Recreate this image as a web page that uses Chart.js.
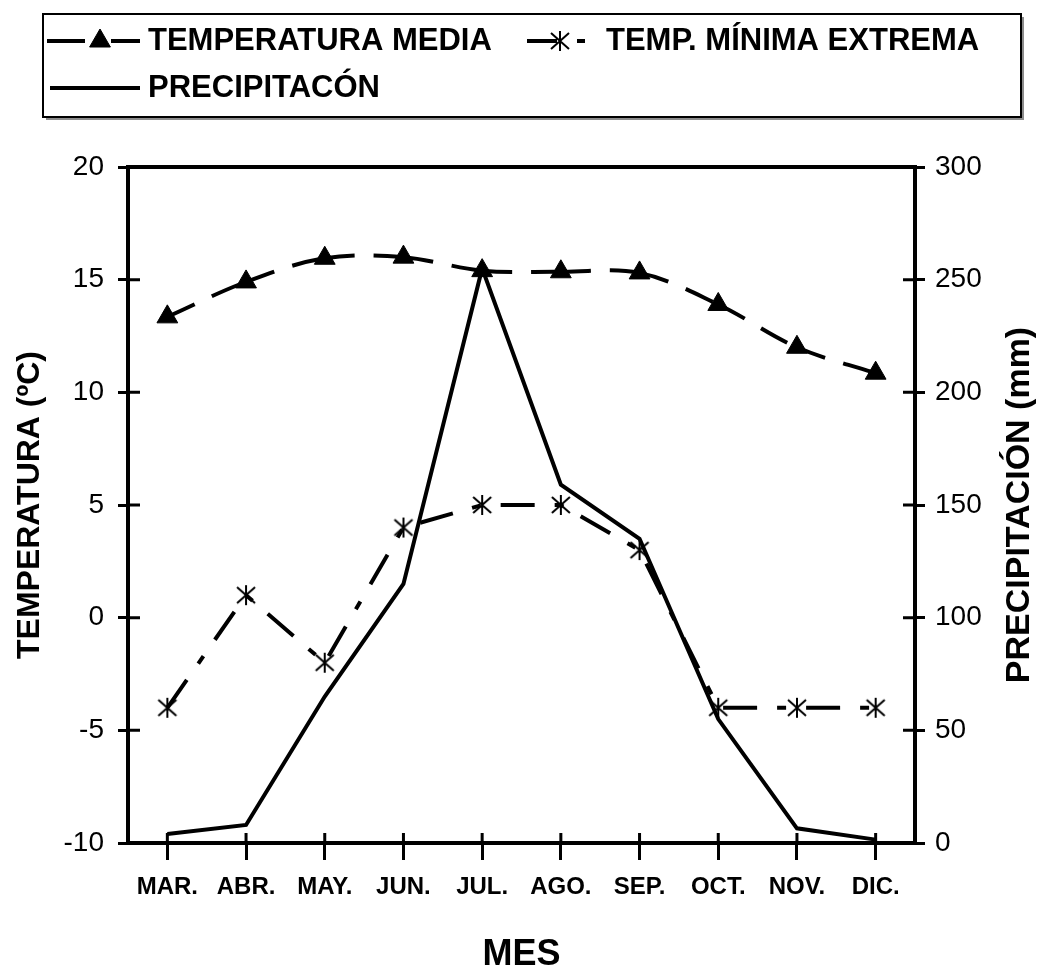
<!DOCTYPE html>
<html>
<head>
<meta charset="utf-8">
<script src="https://cdn.jsdelivr.net/npm/chart.js@4.4.0/dist/chart.umd.min.js"></script>
<style>
  body { margin: 0; background: #fff; }
  canvas { display: block; }
</style>
</head>
<body>
<canvas id="chart" width="1042" height="974"></canvas>
<script>
const months = ['MAR.', 'ABR.', 'MAY.', 'JUN.', 'JUL.', 'AGO.', 'SEP.', 'OCT.', 'NOV.', 'DIC.'];
const tempMedia = [13.35, 14.9, 15.95, 16.0, 15.4, 15.35, 15.3, 13.9, 12.0, 10.85];
const tempMinima = [-4, 1, -2, 4, 5, 5, 3, -4, -4, -4];
const precipitacion = [4, 8, 65, 115, 255, 159, 135, 55, 6.5, 1.5];

const FONT = "'Liberation Sans', Arial, sans-serif";

// asterisk marker (vertical bar + X), like the original spreadsheet marker
function makeStar() {
    const c = document.createElement('canvas');
    c.width = 24;
    c.height = 24;
    const g = c.getContext('2d');
    g.strokeStyle = '#000';
    g.lineWidth = 2;
    g.beginPath();
    g.moveTo(12, 2); g.lineTo(12, 22);
    g.moveTo(3, 4); g.lineTo(21, 20);
    g.moveTo(21, 4); g.lineTo(3, 20);
    g.stroke();
    return c;
}
const star = makeStar();

const boxLegend = {
    id: 'boxLegend',
    afterDraw(chart) {
        const ctx = chart.ctx;
        const ds = chart.data.datasets;
        ctx.save();
        ctx.fillStyle = '#8c8c8c';
        ctx.fillRect(46, 17, 978, 103);
        ctx.fillStyle = '#fff';
        ctx.fillRect(43, 14, 978, 103);
        ctx.strokeStyle = '#000';
        ctx.lineWidth = 2;
        ctx.strokeRect(43, 14, 978, 103);

        const items = [
            { i: 0, x: 47, w: 93, tx: 148, y: 41, mx: 100, dash: [38, 26] },
            { i: 1, x: 527, w: 68, tx: 606, y: 41, mx: 560, dash: [30, 20, 8, 20] },
            { i: 2, x: 50, w: 90, tx: 148, y: 88, mx: null, dash: [] }
        ];
        items.forEach(it => {
            const d = ds[it.i];
            ctx.strokeStyle = '#000';
            ctx.lineWidth = 4;
            ctx.setLineDash(it.dash);
            ctx.beginPath();
            ctx.moveTo(it.x, it.y);
            ctx.lineTo(it.x + it.w, it.y);
            ctx.stroke();
            ctx.setLineDash([]);
            if (it.mx !== null) {
                ctx.fillStyle = '#000';
                ctx.lineWidth = 1;
                Chart.helpers.drawPoint(ctx, {
                    pointStyle: d.pointStyle,
                    radius: d.pointRadius,
                    borderWidth: 1,
                    rotation: 0
                }, it.mx, it.y);
            }
            ctx.fillStyle = '#000';
            ctx.font = 'bold 31px ' + FONT;
            ctx.textBaseline = 'middle';
            ctx.textAlign = 'left';
            ctx.fillText(d.label, it.tx, it.y);
        });
        ctx.restore();
    }
};

const frame = {
    id: 'frame',
    afterDraw(chart) {
        const ctx = chart.ctx;
        const a = chart.chartArea;
        ctx.save();
        ctx.strokeStyle = '#000';
        ctx.lineWidth = 4;
        ctx.strokeRect(a.left, a.top, a.right - a.left, a.bottom - a.top);

        // tick marks crossing into the plot
        ctx.lineWidth = 3;
        ctx.beginPath();
        const sx = chart.scales.x;
        sx.ticks.forEach((t, i) => {
            const p = sx.getPixelForTick(i);
            ctx.moveTo(p, a.bottom - 10);
            ctx.lineTo(p, a.bottom);
        });
        const sy = chart.scales.y;
        sy.ticks.forEach((t, i) => {
            const p = sy.getPixelForTick(i);
            ctx.moveTo(a.left, p);
            ctx.lineTo(a.left + 12, p);
        });
        const sy1 = chart.scales.y1;
        sy1.ticks.forEach((t, i) => {
            const p = sy1.getPixelForTick(i);
            ctx.moveTo(a.right - 12, p);
            ctx.lineTo(a.right, p);
        });
        ctx.stroke();

        // axis titles (both read bottom to top)
        const mid = (a.top + a.bottom) / 2;
        ctx.fillStyle = '#000';
        ctx.textAlign = 'center';
        ctx.textBaseline = 'middle';
        ctx.font = 'bold 32px ' + FONT;
        ctx.translate(30, mid);
        ctx.rotate(-Math.PI / 2);
        ctx.fillText('TEMPERATURA (ºC)', 0, 0);
        ctx.setTransform(1, 0, 0, 1, 0, 0);
        ctx.font = 'bold 34px ' + FONT;
        ctx.translate(1020, mid);
        ctx.rotate(-Math.PI / 2);
        ctx.fillText('PRECIPITACIÓN (mm)', 0, 0);
        ctx.restore();
    }
};

const tickFont = { family: FONT, size: 28 };

new Chart(document.getElementById('chart'), {
    type: 'line',
    data: {
        labels: months,
        datasets: [
            {
                label: 'TEMPERATURA MEDIA',
                data: tempMedia,
                yAxisID: 'y',
                borderColor: '#000',
                borderWidth: 4,
                borderDash: [30, 19],
                tension: 0.35,
                pointStyle: 'triangle',
                pointRadius: 12,
                pointBackgroundColor: '#000',
                pointBorderColor: '#000',
                pointBorderWidth: 1,
                order: 1,
                // restart the dash pattern at each point
                segment: {
                    borderDashOffset: ctx => (ctx.p0DataIndex % 2 ? 0.01 : 0)
                }
            },
            {
                label: 'TEMP. MÍNIMA EXTREMA',
                data: tempMinima,
                yAxisID: 'y',
                borderColor: '#000',
                borderWidth: 4,
                borderDash: [34, 20, 9, 20],
                tension: 0,
                pointStyle: star,
                pointRadius: 12,
                order: 2
            },
            {
                label: 'PRECIPITACÓN',
                data: precipitacion,
                yAxisID: 'y1',
                borderColor: '#000',
                borderWidth: 4,
                tension: 0,
                pointRadius: 0,
                order: 0
            }
        ]
    },
    options: {
        responsive: false,
        animation: false,
        layout: { padding: { top: 167, left: 0, right: 0, bottom: 0 } },
        plugins: {
            legend: { display: false },
            tooltip: { enabled: false }
        },
        scales: {
            x: {
                offset: true,
                afterFit: s => { s.height = 131; },
                grid: { offset: false, drawOnChartArea: false, tickLength: 17, lineWidth: 3, color: '#000' },
                border: { display: false },
                ticks: {
                    color: '#000',
                    font: { family: FONT, size: 24, weight: 'bold' },
                    padding: 13,
                    autoSkip: false,
                    maxRotation: 0
                },
                title: {
                    display: true,
                    text: 'MES',
                    color: '#000',
                    font: { family: FONT, size: 36, weight: 'bold', lineHeight: 1 },
                    padding: { top: 0, bottom: 1 }
                }
            },
            y: {
                position: 'left',
                min: -10,
                max: 20,
                afterFit: s => { s.width = 128; },
                grid: { drawOnChartArea: false, tickLength: 10, lineWidth: 3, color: '#000' },
                border: { display: false },
                ticks: { stepSize: 5, color: '#000', font: tickFont, padding: 14 }
            },
            y1: {
                position: 'right',
                min: 0,
                max: 300,
                afterFit: s => { s.width = 127; },
                grid: { drawOnChartArea: false, tickLength: 10, lineWidth: 3, color: '#000' },
                border: { display: false },
                ticks: { stepSize: 50, color: '#000', font: tickFont, padding: 10 }
            }
        }
    },
    plugins: [boxLegend, frame]
});
</script>
</body>
</html>
